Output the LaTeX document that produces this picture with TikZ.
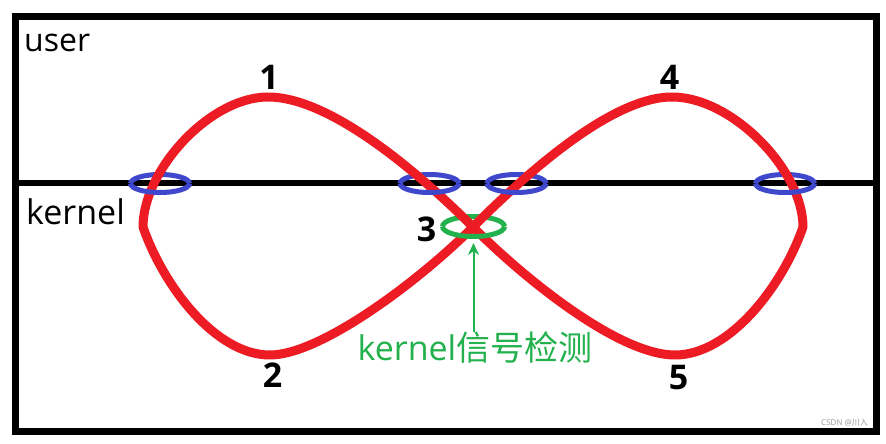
\documentclass[tikz,border=0pt]{standalone}
\usepackage{fontspec}
\setmainfont{Open Sans}
\newfontfamily\cjk{Noto Sans CJK SC}
\usetikzlibrary{arrows.meta}
\definecolor{pred}{HTML}{ED1C24}
\definecolor{pgreen}{HTML}{22B14C}
\definecolor{pblue}{HTML}{3F48CC}
\begin{document}
\begin{tikzpicture}[x=1pt,y=-1pt,
  frame/.style={line width=6.5pt},
  loopline/.style={draw=pred,line width=9pt,line join=round},
  ring/.style={draw=pblue,line width=5pt},
  gring/.style={draw=pgreen,line width=5pt},
  layer/.style={font=\fontsize{33}{36}\selectfont,anchor=base west,inner sep=0pt},
  num/.style={font=\fontsize{34}{36}\selectfont\bfseries,inner sep=0pt},
  arrowline/.style={draw=pgreen,line width=2pt,-{Stealth[length=12pt,width=11pt]}},
]
\useasboundingbox (0,0) rectangle (886,444);
\fill[white] (0,0) rectangle (886,444);
\draw[frame] (15.5,16.5) rectangle (876.5,431.5);
\coordinate (dl) at (15.5,183);
\coordinate (dr) at (876.5,183);
\draw[line width=6pt] (dl) -- (dr);
% key points of the loop
\coordinate (C) at (473,227);
\coordinate (T1) at (268,97);
\coordinate (L) at (143,227);
\coordinate (B2) at (270,355);
\coordinate (T4) at (672,97);
\coordinate (R) at (803,227);
\coordinate (B5) at (675,355);
% rings
\coordinate (e1) at (160,183.5);
\coordinate (e2) at (429.5,183.5);
\coordinate (e3) at (516.5,183.5);
\coordinate (e4) at (785,183.5);
\coordinate (g) at (473.5,226.5);
\coordinate (gtip) at (473.5,243);
% back halves
\foreach \e in {e1,e2,e3,e4}
  \draw[ring] ([xshift=29.5pt]\e) arc[start angle=0,end angle=180,x radius=29.5pt,y radius=9pt];
\draw[gring] ([xshift=31pt]g) arc[start angle=0,end angle=180,x radius=31pt,y radius=10pt];
% red loop
\draw[loopline] (C) .. controls (418,172) and (330,97) .. (T1)
  .. controls (210,97) and (143,170) .. (L)
  .. controls (163,285) and (215,355) .. (B2)
  .. controls (320,355) and (418,282) .. (C)
  .. controls (528,172) and (612,97) .. (T4)
  .. controls (732,97) and (803,170) .. (R)
  .. controls (783,285) and (730,355) .. (B5)
  .. controls (620,355) and (528,282) .. cycle;
% front halves
\foreach \e in {e1,e2,e3,e4}
  \draw[ring] ([xshift=-29.5pt]\e) arc[start angle=180,end angle=360,x radius=29.5pt,y radius=9pt];
\draw[gring] ([xshift=-31pt]g) arc[start angle=180,end angle=360,x radius=31pt,y radius=10pt];
% labels
\node[layer,font=\fontsize{32}{36}\selectfont] (user) at (24,52) {user};
\node[layer,font=\fontsize{34}{36}\selectfont] (kernel) at (26,224) {kernel};
\node[num] (n1) at (269,77.5) {1};
\node[num] (n2) at (272.5,375.5) {2};
\node[num] (n3) at (426.5,229) {3};
\node[num] (n4) at (669.5,77.5) {4};
\node[num] (n5) at (678.5,377.5) {5};
\node[font=\fontsize{34}{36}\selectfont,text=pgreen,inner sep=0pt] (sig) at (475,348) {kernel{\cjk 信号检测}};
\draw[arrowline] (sig.north -| gtip) -- (gtip);
\node[text=black!40,font=\fontsize{8}{9}\selectfont,anchor=east,inner sep=0pt] (wm) at (868,423) {CSDN @{\cjk 川入}};
\end{tikzpicture}
\end{document}
